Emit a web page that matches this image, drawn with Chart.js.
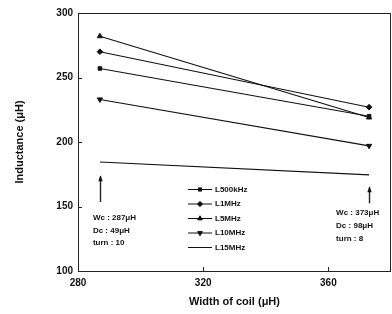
<!DOCTYPE html>
<html>
<head>
<meta charset="utf-8">
<script src="https://cdn.jsdelivr.net/npm/chart.js@4/dist/chart.umd.min.js"></script>
<style>
html,body{margin:0;padding:0;background:#fff;}
#wrap{width:392px;height:314px;position:relative;}
</style>
</head>
<body>
<div id="wrap"><canvas id="c" width="392" height="314"></canvas></div>
<script>
// ---- data ----
const widths = [287, 373];
const L500kHz = [257, 220];
const L1MHz = [270, 227];
const L5MHz = [282, 219];
const L10MHz = [233, 197];
const L15MHz = [184.5, 174.5];
const seriesNames = ['L500kHz', 'L1MHz', 'L5MHz', 'L10MHz', 'L15MHz'];
const xTicks = [280, 320, 360];
const yTicks = [100, 150, 200, 250, 300];
const leftNote = ['Wc : 287\u03bcH', 'Dc : 49\u03bcH', 'turn : 10'];
const rightNote = ['Wc : 373\u03bcH', 'Dc : 98\u03bcH', 'turn : 8'];

const pts = arr => widths.map((w, i) => ({x: w, y: arr[i]}));
const styles = [
  {pointStyle: 'rect', pointRadius: 2.5, rotation: 0},
  {pointStyle: 'rectRot', pointRadius: 2.8, rotation: 0},
  {pointStyle: 'triangle', pointRadius: 3, rotation: 0},
  {pointStyle: 'triangle', pointRadius: 3, rotation: 180},
  {pointStyle: false, pointRadius: 0, rotation: 0}
];
const allSeries = [L500kHz, L1MHz, L5MHz, L10MHz, L15MHz];
const datasets = allSeries.map((s, i) => ({
  label: seriesNames[i],
  data: pts(s),
  showLine: true,
  borderColor: '#111',
  backgroundColor: '#111',
  borderWidth: 1.1,
  pointStyle: styles[i].pointStyle,
  pointRadius: styles[i].pointRadius,
  pointRotation: styles[i].rotation,
  pointBorderWidth: 1
}));

const FONT = '"Liberation Sans", Arial, sans-serif';

const extras = {
  id: 'extras',
  afterDraw(chart) {
    const ctx = chart.ctx;
    const a = chart.chartArea;
    const xs = chart.scales.x, ys = chart.scales.y;
    ctx.save();
    // border box
    ctx.strokeStyle = '#222';
    ctx.lineWidth = 1;
    ctx.strokeRect(a.left + 0.5, a.top + 0.5, a.right - a.left - 1, a.bottom - a.top);
    // inner ticks
    ctx.beginPath();
    yTicks.forEach(v => {
      const y = Math.round(ys.getPixelForValue(v)) + 0.5;
      ctx.moveTo(a.left, y); ctx.lineTo(a.left + 4, y);
    });
    xTicks.forEach(v => {
      const x = Math.round(xs.getPixelForValue(v)) + 0.5;
      ctx.moveTo(x, a.bottom); ctx.lineTo(x, a.bottom - 4);
    });
    ctx.stroke();

    // arrows
    const arrow = (xv, y0, y1) => {
      const x = Math.round(xs.getPixelForValue(xv)) + 0.5;
      const p0 = ys.getPixelForValue(y0), p1 = ys.getPixelForValue(y1);
      ctx.beginPath();
      ctx.lineWidth = 1.4;
      ctx.moveTo(x, p0); ctx.lineTo(x, p1); ctx.stroke();
      ctx.beginPath();
      ctx.moveTo(x, p1 - 1); ctx.lineTo(x - 2.2, p1 + 5); ctx.lineTo(x + 2.2, p1 + 5); ctx.closePath();
      ctx.fillStyle = '#111'; ctx.fill();
    };
    arrow(widths[0], 153.5, 173.5);
    arrow(widths[1], 152.5, 165);

    // notes
    ctx.fillStyle = '#111';
    ctx.font = 'bold 8px ' + FONT;
    ctx.textBaseline = 'middle';
    ctx.textAlign = 'left';
    const noteY = [141, 131, 121.5];
    leftNote.forEach((t, i) => ctx.fillText(t, xs.getPixelForValue(widths[0]) - 7, ys.getPixelForValue(noteY[i])));
    const noteY2 = [145.5, 135, 125];
    rightNote.forEach((t, i) => ctx.fillText(t, xs.getPixelForValue(widths[1]) - 33, ys.getPixelForValue(noteY2[i])));

    // legend
    const lx = 188, ly0 = 189, lstep = 14.5;
    chart.data.datasets.forEach((ds, i) => {
      const y = ly0 + i * lstep;
      ctx.strokeStyle = '#111';
      ctx.lineWidth = 1;
      ctx.beginPath();
      ctx.moveTo(lx, y + 0.5); ctx.lineTo(lx + 24, y + 0.5); ctx.stroke();
      if (ds.pointStyle) {
        Chart.helpers.drawPoint(ctx, {
          pointStyle: ds.pointStyle, radius: ds.pointRadius * 0.9, rotation: ds.pointRotation, borderWidth: 1
        }, lx + 12, y + 0.5);
        ctx.fill();
      }
      ctx.fillStyle = '#111';
      ctx.fillText(ds.label, lx + 27, y + 0.5);
    });
    ctx.restore();
  }
};

new Chart(document.getElementById('c'), {
  type: 'scatter',
  data: {datasets},
  plugins: [extras],
  options: {
    responsive: false,
    animation: false,
    layout: {autoPadding: false, padding: {top: 13, right: 1, left: 0, bottom: 0}},
    plugins: {legend: {display: false}, tooltip: {enabled: false}},
    scales: {
      x: {
        type: 'linear', min: 280, max: 380,
        afterBuildTicks: s => { s.ticks = xTicks.map(v => ({value: v})); },
        afterFit: s => { s.height = 43; s.paddingLeft = 0; s.paddingRight = 0; },
        grid: {display: false, drawTicks: false},
        border: {display: false},
        ticks: {color: '#111', font: {family: FONT, size: 10, weight: 'bold'}, padding: 6},
        title: {display: true, text: 'Width of coil (\u03bcH)', color: '#111',
          font: {family: FONT, size: 11, weight: 'bold'}, padding: {top: 6, bottom: 5}}
      },
      y: {
        min: 100, max: 300,
        afterBuildTicks: s => { s.ticks = yTicks.map(v => ({value: v})); },
        afterFit: s => { s.width = 78; s.paddingTop = 0; s.paddingBottom = 0; },
        grid: {display: false, drawTicks: false},
        border: {display: false},
        ticks: {color: '#111', font: {family: FONT, size: 10, weight: 'bold'}, padding: 5},
        title: {display: true, text: 'Inductance (\u03bcH)', color: '#111',
          font: {family: FONT, size: 11, weight: 'bold'}, padding: {top: 13, bottom: 0}}
      }
    }
  }
});
</script>
</body>
</html>
